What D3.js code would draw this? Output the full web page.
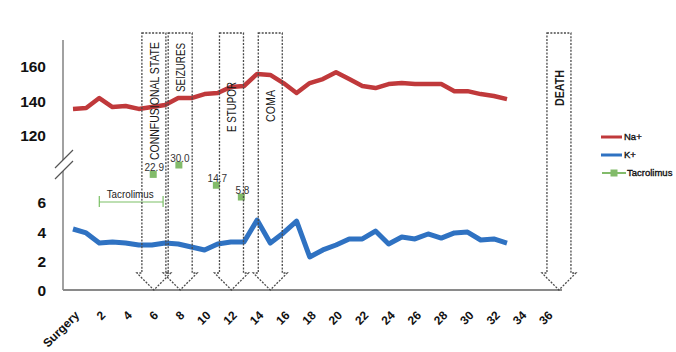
<!DOCTYPE html>
<html>
<head>
<meta charset="utf-8">
<style>
    body { margin: 0; background: #fff; }
    svg text { font-family: "Liberation Sans", Arial, sans-serif; }
    g.ylab text { font-size: 15.5px; font-weight: bold; fill: #111; }
    g.xlab text { font-size: 12px; font-weight: bold; fill: #111; }
    g.events path { fill: none; stroke: #4a4a4a; stroke-width: 1.3; stroke-dasharray: 2,1.4; }
    g.events text { font-size: 13.5px; fill: #1a1a1a; }
    g.legend text { font-size: 9.5px; fill: #111; stroke: #111; stroke-width: 0.35; }
</style>
</head>
<body>
<div id="target"></div>
<script src="https://cdnjs.cloudflare.com/ajax/libs/d3/7.8.5/d3.min.js"></script>
<script>
    // days after surgery (0 = surgery)
    var days = [0,1,2,3,4,5,6,7,8,9,10,11,12,13,14,15,16,17,18,19,20,21,22,23,24,25,26,27,28,29,30,31,32,33];
    var naValues = [135.7,136.2,142,136.8,137.4,135.7,136.8,138,142,142,144.3,144.9,148.4,149,156,155.4,150.7,144.9,150.7,153,157,153,149,147.8,150.1,150.7,150.1,150.1,150.1,146,146,144.3,143.2,141.4];
    var kValues = [4.16,3.89,3.2,3.27,3.2,3.07,3.07,3.2,3.14,2.93,2.73,3.14,3.27,3.27,4.77,3.2,3.89,4.7,2.25,2.73,3.07,3.48,3.48,4.02,3.14,3.61,3.48,3.82,3.54,3.89,3.95,3.41,3.48,3.2];

    var tacDays = [6.1, 8.05, 10.9, 12.8];
    var tacValues = [22.9, 30.0, 14.7, 5.8];
    var tacRange = [2, 6.85];

    var eventDays = [6.15, 8.15, 12.05, 15, 36.95];
    var eventLabels = ['CONNFUSIONAL STATE', 'SEIZURES', 'E STUPOR', 'COMA', 'DEATH'];

    var xTicks = [0,2,4,6,8,10,12,14,16,18,20,22,24,26,28,30,32,34,36];
    var naTicks = [120, 140, 160];
    var kTicks = [0, 2, 4, 6];

    var width = 676, height = 352;
    var axisX = 63, axisTop = 40, axisBottom = 290, axisRight = 562;

    var svg = d3.select('#target').append('svg')
            .attr('width', width)
            .attr('height', height);

    var x = d3.scaleLinear().domain([0, 33]).range([73, 507]);
    var yNa = d3.scaleLinear().domain([120, 160]).range([136, 67]);
    var yK = d3.scaleLinear().domain([0, 6]).range([290, 202]);
    var yTac = d3.scaleLinear().domain([0, 30]).range([204.7, 165]);

    // axis lines
    svg.append('line')
            .attr('x1', axisX).attr('y1', axisTop).attr('x2', axisX).attr('y2', axisBottom)
            .attr('stroke', '#8a8a8a').attr('stroke-width', 1.6);
    svg.append('line')
            .attr('x1', axisX).attr('y1', axisBottom).attr('x2', axisRight).attr('y2', axisBottom)
            .attr('stroke', '#8a8a8a').attr('stroke-width', 1.8);

    // axis break
    svg.append('path')
            .attr('d', 'M55,168 L73,150 L73,161 L55,179 Z')
            .attr('fill', '#fff');
    svg.append('path')
            .attr('d', 'M55,168 L73,150 M55,179 L73,161')
            .attr('stroke', '#555').attr('stroke-width', 1.2).attr('fill', 'none');

    // y labels
    svg.append('g').attr('class', 'ylab')
            .attr('transform', 'translate(' + axisX + ',0)')
            .call(d3.axisLeft(yNa).tickValues(naTicks).tickSize(0).tickPadding(17).tickFormat(d3.format('d')));
    svg.append('g').attr('class', 'ylab')
            .attr('transform', 'translate(' + axisX + ',1)')
            .call(d3.axisLeft(yK).tickValues(kTicks).tickSize(0).tickPadding(17).tickFormat(d3.format('d')));
    svg.selectAll('g.ylab .domain').remove();
    svg.selectAll('g.ylab text').attr('font-family', null).attr('font-size', null);

    // x labels
    var gX = svg.append('g').attr('class', 'xlab')
            .attr('transform', 'translate(0,' + axisBottom + ')')
            .call(d3.axisBottom(x).tickValues(xTicks).tickSize(0)
                    .tickFormat(function (d) { return d === 0 ? 'Surgery' : d; }));
    gX.select('.domain').remove();
    gX.selectAll('text')
            .attr('font-family', null).attr('font-size', null)
            .attr('dy', null).attr('y', 0)
            .attr('text-anchor', 'end')
            .attr('transform', 'translate(6.5,26) rotate(-45)');

    // lines
    var naLine = d3.line()
            .x(function (d, i) { return x(days[i]); })
            .y(function (d) { return yNa(d); });
    var kLine = d3.line()
            .x(function (d, i) { return x(days[i]); })
            .y(function (d) { return yK(d); });

    svg.append('path').datum(naValues)
            .attr('d', naLine)
            .attr('fill', 'none').attr('stroke', '#c0393b')
            .attr('stroke-width', 4.5).attr('stroke-linejoin', 'round');
    svg.append('path').datum(kValues)
            .attr('d', kLine)
            .attr('fill', 'none').attr('stroke', '#2f72c2')
            .attr('stroke-width', 5).attr('stroke-linejoin', 'round');

    // tacrolimus period bracket
    var gTacRange = svg.append('g');
    var by = yK(6);
    gTacRange.append('path')
            .attr('d', 'M' + x(tacRange[0]) + ',' + by + ' L' + x(tacRange[1]) + ',' + by +
                    ' M' + x(tacRange[0]) + ',' + (by - 6) + ' L' + x(tacRange[0]) + ',' + (by + 5) +
                    ' M' + x(tacRange[1]) + ',' + (by - 6) + ' L' + x(tacRange[1]) + ',' + (by + 5))
            .attr('stroke', '#7cc067').attr('stroke-width', 1.2).attr('fill', 'none');
    gTacRange.append('text')
            .attr('x', (x(tacRange[0]) + x(tacRange[1])) / 2 - 1)
            .attr('y', by - 4)
            .attr('text-anchor', 'middle')
            .attr('font-size', '11px').attr('fill', '#222')
            .attr('textLength', 47).attr('lengthAdjust', 'spacingAndGlyphs')
            .text('Tacrolimus');

    // tacrolimus levels
    var gTac = svg.append('g');
    gTac.selectAll('rect')
            .data(tacValues)
            .enter()
            .append('rect')
            .attr('x', function (d, i) { return x(tacDays[i]) - 3.5; })
            .attr('y', function (d) { return yTac(d) - 3.5; })
            .attr('width', 7).attr('height', 7)
            .attr('fill', '#82bb6a');
    gTac.selectAll('text')
            .data(tacValues)
            .enter()
            .append('text')
            .attr('x', function (d, i) { return x(tacDays[i]) + 1; })
            .attr('y', function (d) { return yTac(d) - 3; })
            .attr('text-anchor', 'middle')
            .attr('font-size', '10px').attr('fill', '#333')
            .text(function (d) { return d.toFixed(1); });

    // event arrows
    var boxTop = 33, headY = 273, half = 12, wing = 5;
    var gEvents = svg.append('g').attr('class', 'events');
    var gEv = gEvents.selectAll('g.event')
            .data(eventDays)
            .enter()
            .append('g')
            .attr('class', 'event')
            .attr('transform', function (d) { return 'translate(' + x(d) + ',0)'; });
    gEv.append('path')
            .attr('d', 'M' + (-half) + ',' + boxTop + ' L' + half + ',' + boxTop +
                    ' L' + half + ',' + headY + ' L' + (half + wing) + ',' + headY +
                    ' L0,' + axisBottom + ' L' + (-half - wing) + ',' + headY +
                    ' L' + (-half) + ',' + headY + ' Z');

    var textTops = [42, 43, 82, 90, 70];
    var textLens = [118, 49, 50, 32, 36];
    gEv.append('text')
            .attr('transform', function (d, i) { return 'translate(5,' + textTops[i] + ') rotate(-90)'; })
            .attr('text-anchor', 'end')
            .attr('textLength', function (d, i) { return textLens[i]; })
            .attr('lengthAdjust', 'spacingAndGlyphs')
            .attr('font-weight', function (d, i) { return i === 4 ? 'bold' : 'normal'; })
            .text(function (d, i) { return eventLabels[i]; });

    // legend
    var legend = [
        {name: 'Na+', color: '#c0393b', w: 3},
        {name: 'K+', color: '#2f72c2', w: 3},
        {name: 'Tacrolimus', color: '#82bb6a', w: 2}
    ];
    var gLegend = svg.append('g').attr('class', 'legend');
    var gItem = gLegend.selectAll('g')
            .data(legend)
            .enter()
            .append('g')
            .attr('transform', function (d, i) { return 'translate(601,' + (137 + i * 18) + ')'; });
    gItem.append('line')
            .attr('x1', function (d, i) { return i === 2 ? 1 : 0; })
            .attr('x2', function (d, i) { return i === 2 ? 25 : 21; })
            .attr('stroke', function (d) { return d.color; })
            .attr('stroke-width', function (d) { return d.w; });
    gItem.filter(function (d, i) { return i === 2; })
            .append('rect')
            .attr('x', 9.5).attr('y', -3.5).attr('width', 7).attr('height', 7)
            .attr('fill', '#82bb6a');
    gItem.append('text')
            .attr('x', function (d, i) { return i === 2 ? 26 : 23; })
            .attr('y', 0)
            .attr('dy', '0.35em')
            .text(function (d) { return d.name; });
</script>
</body>
</html>
